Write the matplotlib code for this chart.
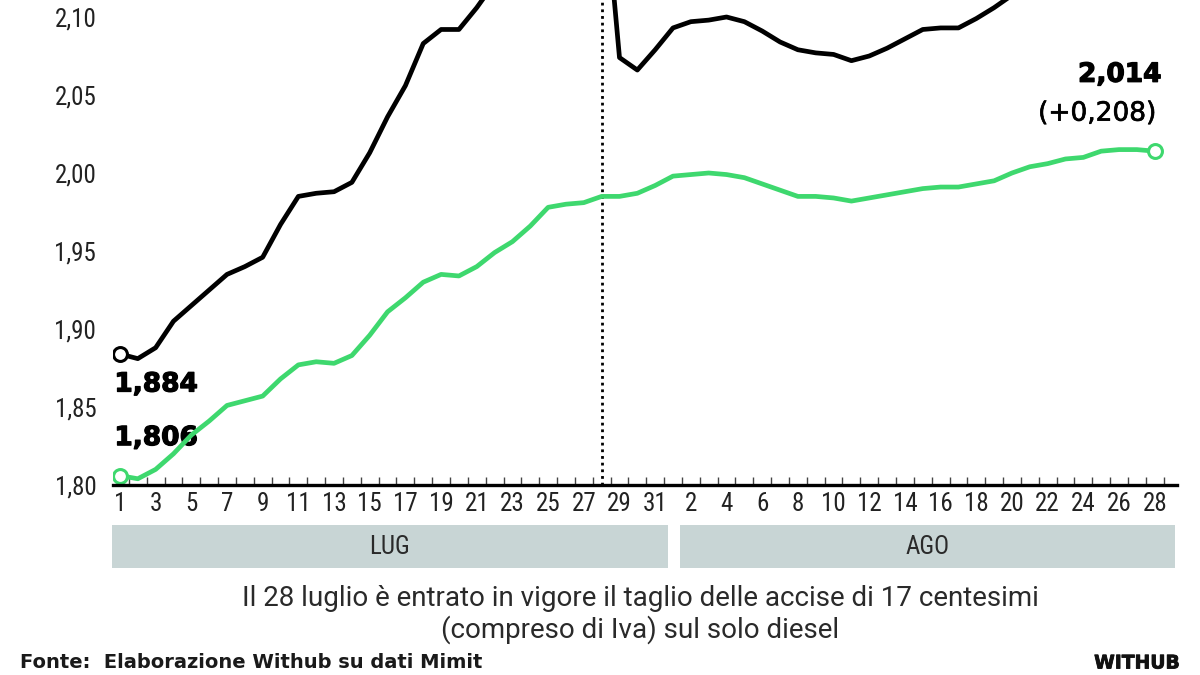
import numpy as np
import matplotlib
matplotlib.use("Agg")
import matplotlib.pyplot as plt
from matplotlib import font_manager, transforms
from matplotlib import patheffects as pe
from matplotlib.patches import Rectangle

# daily prices, 1 July -> 28 August
giorni_lug = list(range(1, 32))
giorni_ago = list(range(1, 29))

serie_nera = [1.884, 1.881, 1.888, 1.905, 1.915, 1.925, 1.935, 1.940, 1.946, 1.967,
              1.985, 1.987, 1.988, 1.994, 2.013, 2.036, 2.056, 2.083, 2.092, 2.092,
              2.106, 2.122, 2.138, 2.152, 2.166, 2.178, 2.188, 2.200, 2.074, 2.066,
              2.079,
              2.093, 2.097, 2.098, 2.100, 2.097, 2.091, 2.084, 2.079, 2.077, 2.076,
              2.072, 2.075, 2.080, 2.086, 2.092, 2.093, 2.093, 2.099, 2.106, 2.114,
              2.124, 2.132, 2.140, 2.146, 2.152, 2.158, 2.163, 2.168]

serie_verde = [1.806, 1.804, 1.810, 1.820, 1.832, 1.841, 1.851, 1.854, 1.857, 1.868,
               1.877, 1.879, 1.878, 1.883, 1.896, 1.911, 1.920, 1.930, 1.935, 1.934,
               1.940, 1.949, 1.956, 1.966, 1.978, 1.980, 1.981, 1.985, 1.985, 1.987,
               1.992,
               1.998, 1.999, 2.000, 1.999, 1.997, 1.993, 1.989, 1.985, 1.985, 1.984,
               1.982, 1.984, 1.986, 1.988, 1.990, 1.991, 1.991, 1.993, 1.995, 2.000,
               2.004, 2.006, 2.009, 2.010, 2.014, 2.015, 2.015, 2.014]

mesi = ["LUG", "AGO"]
giorno_taglio = 28  # 28 luglio
y_ticks = [1.80, 1.85, 1.90, 1.95, 2.00, 2.05, 2.10]

nota = ["Il 28 luglio è entrato in vigore il taglio delle accise di 17 centesimi",
        "(compreso di Iva) sul solo diesel"]
fonte = "Fonte:  Elaborazione Withub su dati Mimit"

VERDE = "#3ed86e"
GRIGIO_BOX = "#c8d5d5"

installed = {f.name for f in font_manager.fontManager.ttflist}


def pick(*names):
    for n in names:
        if n in installed:
            return n
    return "DejaVu Sans"


narrow = pick("Roboto Condensed", "Liberation Sans Narrow", "Open Sans Condensed", "Roboto")
plain = pick("Roboto", "Open Sans", "Lato")
heavy = "DejaVu Sans"

x = np.arange(len(serie_nera))
etichette = [str(d) for d in giorni_lug] + [str(d) for d in giorni_ago]

fig = plt.figure(figsize=(12, 6.75), dpi=100)
ax = fig.add_axes([113 / 1200, 1 - 485 / 675, (1177 - 113) / 1200, 485 / 675])

ax.plot(x, serie_nera, color="black", lw=3.4, zorder=4)
ax.plot(x, serie_verde, color=VERDE, lw=3.4, zorder=4)

# open circle markers at first/last values
ax.plot(x[0], serie_nera[0], "o", ms=10, mfc="white", mec="black", mew=2.2, zorder=5)
ax.plot(x[0], serie_verde[0], "o", ms=10, mfc="white", mec=VERDE, mew=2.2, zorder=5)
ax.plot(x[-1], serie_verde[-1], "o", ms=10, mfc="white", mec=VERDE, mew=2.2, zorder=5)

ax.axvline(giorno_taglio - 1, color="black", lw=2, linestyle=(0, (1, 1.4)), zorder=3)

ax.set_xlim(-0.39, 59.25)
ax.set_ylim(1.80, 1.80 + 485 / 1560)

for s in ["top", "right", "left"]:
    ax.spines[s].set_visible(False)
ax.spines["bottom"].set_linewidth(2.4)
ax.spines["bottom"].set_zorder(6)

ax.set_yticks(y_ticks)
ax.set_yticklabels([f"{v:.2f}".replace(".", ",") for v in y_ticks],
                   fontfamily=narrow, fontsize=18, color="#222222")
ax.tick_params(axis="y", length=0, pad=12)

ax.set_xticks(x[::2])
ax.set_xticklabels(etichette[::2], fontfamily=narrow, fontsize=18, color="#222222")
ax.set_xticks(x + 0.5, minor=True)
ax.tick_params(axis="x", which="major", length=0, pad=5)
ax.tick_params(axis="x", which="minor", direction="in", length=6, width=1, color="#444444")

# month bands under the axis
trans = transforms.blended_transform_factory(ax.transData, fig.transFigure)
bande = [(-0.45, 30.72), (31.39, 59.14)]
for nome, (a, b) in zip(mesi, bande):
    ax.add_patch(Rectangle((a, 1 - 568 / 675), b - a, 43 / 675, transform=trans,
                           facecolor=GRIGIO_BOX, edgecolor="none", clip_on=False))
    ax.text((a + b) / 2, 1 - 547 / 675, nome, transform=trans, ha="center", va="center",
            fontfamily=narrow, fontsize=18, color="#2a2a2a")

# value labels
spessore = [pe.withStroke(linewidth=0.9, foreground="black")]
for testo, yv, dy in [("1,884", serie_nera[0], -22), ("1,806", serie_verde[0], 27)]:
    ax.annotate(testo, xy=(x[0], yv), xytext=(-4, dy), textcoords="offset points",
                ha="left", va="center", fontfamily=heavy, fontweight="bold", fontsize=19,
                zorder=2, path_effects=spessore)
ax.annotate("2,014", xy=(x[-1], serie_verde[-1]), xytext=(5, 55), textcoords="offset points",
            ha="right", va="center", fontfamily=heavy, fontweight="bold", fontsize=19,
            zorder=2, path_effects=spessore)
diff = serie_verde[-1] - serie_verde[0]
ax.annotate(f"(+{diff:.3f})".replace(".", ","), xy=(x[-1], serie_verde[-1]), xytext=(1, 27),
            textcoords="offset points", ha="right", va="center", fontfamily=heavy,
            fontsize=19, zorder=2,
            path_effects=[pe.withStroke(linewidth=0.5, foreground="black")])

fig.text(640 / 1200, 1 - 598 / 675, nota[0], ha="center", va="center", fontfamily=plain,
         fontsize=20, color="#2a2a2a")
fig.text(640 / 1200, 1 - 630 / 675, nota[1], ha="center", va="center", fontfamily=plain,
         fontsize=20, color="#2a2a2a")
fig.text(20 / 1200, 1 - 663 / 675, fonte, ha="left", va="center", fontfamily=heavy,
         fontweight="bold", fontsize=14, color="#1a1a1a")
fig.text(1180 / 1200, 1 - 663 / 675, "WITHUB", ha="right", va="center", fontfamily=heavy,
         fontweight="bold", fontsize=13.5, color="#111111",
         path_effects=[pe.withStroke(linewidth=0.6, foreground="#111111")])

fig.savefig("out.png", dpi=100)
